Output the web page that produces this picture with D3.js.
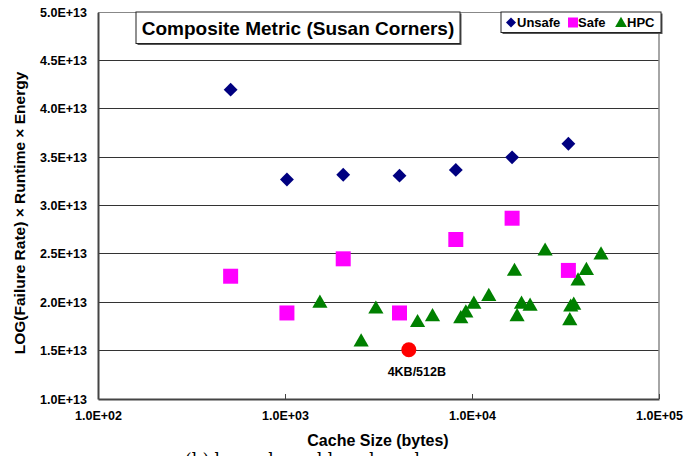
<!DOCTYPE html>
<html><head><meta charset="utf-8">
<script src="https://cdn.jsdelivr.net/npm/d3@7"></script>
<style>body{margin:0;background:#fff;} svg{display:block;font-family:"Liberation Sans",Arial,sans-serif;}</style>
</head><body><svg id="c" width="700" height="456"></svg>
<script>
// ---- data ----
const cacheSizes = [512, 1024, 2048, 4096, 8192, 16384, 32768];
const unsafeValues = [4.20e13, 3.27e13, 3.32e13, 3.31e13, 3.37e13, 3.50e13, 3.64e13];
const safeValues = [2.27e13, 1.89e13, 2.45e13, 1.89e13, 2.65e13, 2.87e13, 2.33e13];
const hpcSizes = [1537, 2554, 3062, 5116, 6150, 8710, 9270, 10230, 12300, 16870, 17420, 18400, 20450, 24600, 33340, 33730, 35000, 36900, 40900, 48980];
const hpcValues = [2.01e13, 1.61e13, 1.95e13, 1.81e13, 1.87e13, 1.85e13, 1.91e13, 2.00e13, 2.08e13, 2.34e13, 1.87e13, 2.00e13, 1.98e13, 2.55e13, 1.83e13, 1.97e13, 1.99e13, 2.24e13, 2.35e13, 2.51e13];
const highlightSizes = [4594];
const highlightValues = [1.51e13];
const highlightLabels = ["4KB/512B"];
const xTicks = [1e2, 1e3, 1e4, 1e5];
const yTicks = [1.0e13, 1.5e13, 2.0e13, 2.5e13, 3.0e13, 3.5e13, 4.0e13, 4.5e13, 5.0e13];
const seriesNames = ["Unsafe", "Safe", "HPC"];
const chartTitle = "Composite Metric (Susan Corners)";
const xTitle = "Cache Size (bytes)";
const yTitle = "LOG(Failure Rate) \u00d7 Runtime \u00d7 Energy";
const caption = "(b) lower bound benchmark";

// ---- drawing ----
const svg = d3.select("#c");
const x = d3.scaleLog().domain([1e2, 1e5]).range([98, 659]);
const y = d3.scaleLinear().domain([1e13, 5e13]).range([399, 12.3]);
const fmt = v => { const e = Math.floor(Math.log10(v) + 1e-9); const m = v / Math.pow(10, e); return m.toFixed(1) + "E+" + String(e).padStart(2, "0"); };

// gridlines
svg.append("g").selectAll("line").data(yTicks.slice(1)).join("line")
  .attr("x1", 98).attr("x2", 659).attr("y1", d => y(d)).attr("y2", d => y(d))
  .attr("stroke", d => d === 5e13 ? "#888" : "#333").attr("stroke-width", 1).attr("shape-rendering", "crispEdges");
// right border
svg.append("line").attr("x1", 659).attr("x2", 659).attr("y1", 12).attr("y2", 399)
  .attr("stroke", "#888").attr("stroke-width", 1.5);

// x axis
const xa = svg.append("g").attr("transform", "translate(0,399)")
  .call(d3.axisBottom(x).tickValues(xTicks).tickFormat(fmt).tickSizeInner(-5).tickSizeOuter(0).tickPadding(12));
xa.select(".domain").attr("stroke", "#444").attr("stroke-width", 2);
xa.selectAll(".tick line").attr("stroke", "#444");
xa.selectAll("text").attr("font-size", 12.5).attr("font-weight", "bold").attr("fill", "#000");

// y axis
const ya = svg.append("g").attr("transform", "translate(98,0)")
  .call(d3.axisLeft(y).tickValues(yTicks).tickFormat(fmt).tickSize(0).tickPadding(11));
ya.select(".domain").attr("stroke", "#444").attr("stroke-width", 2);
ya.selectAll("text").attr("font-size", 12.5).attr("font-weight", "bold").attr("fill", "#000");

// axis titles
svg.append("text").attr("x", 378).attr("y", 446).attr("text-anchor", "middle")
  .attr("font-size", 16).attr("font-weight", "bold").text(xTitle);
svg.append("text").attr("transform", "translate(25,213) rotate(-90)").attr("text-anchor", "middle")
  .attr("font-size", 15.5).attr("font-weight", "bold").text(yTitle);
svg.append("text").attr("x", 185).attr("y", 465).attr("font-family", "'DejaVu Serif',serif")
  .attr("font-size", 17).text(caption);

// markers
const diamond = d3.symbol().type(d3.symbolSquare).size(96)();
const square = d3.symbol().type(d3.symbolSquare).size(225)();
const tri = d3.symbol().type(d3.symbolTriangle).size(100)();
const colors = ["#000080", "#FF00FF", "#008000"];

svg.append("g").selectAll("path").data(hpcSizes).join("path")
  .attr("d", tri).attr("fill", colors[2])
  .attr("transform", (d, i) => `translate(${x(d)},${y(hpcValues[i]) + 2})`);
svg.append("g").selectAll("path").data(cacheSizes).join("path")
  .attr("d", square).attr("fill", colors[1])
  .attr("transform", (d, i) => `translate(${x(d)},${y(safeValues[i])})`);
svg.append("g").selectAll("path").data(cacheSizes).join("path")
  .attr("d", diamond).attr("fill", colors[0])
  .attr("transform", (d, i) => `translate(${x(d)},${y(unsafeValues[i])}) rotate(45)`);
svg.append("g").selectAll("circle").data(highlightSizes).join("circle")
  .attr("cx", d => x(d)).attr("cy", (d, i) => y(highlightValues[i])).attr("r", 7.5).attr("fill", "#FF0000");
svg.append("g").selectAll("text").data(highlightSizes).join("text")
  .attr("x", d => x(d) + 8).attr("y", (d, i) => y(highlightValues[i]) + 26)
  .attr("text-anchor", "middle").attr("font-size", 12.5).attr("font-weight", "bold").text((d, i) => highlightLabels[i]);

// title box
svg.append("rect").attr("x", 137.5).attr("y", 13.5).attr("width", 324).attr("height", 31.5).attr("fill", "#555");
svg.append("rect").attr("x", 136).attr("y", 12).attr("width", 324).attr("height", 31.5)
  .attr("fill", "#fff").attr("stroke", "#222").attr("stroke-width", 1);
svg.append("text").attr("x", 298).attr("y", 34.5).attr("text-anchor", "middle")
  .attr("font-size", 19).attr("font-weight", "bold").text(chartTitle);

// legend
svg.append("rect").attr("x", 502.5).attr("y", 13.5).attr("width", 160).attr("height", 20.5).attr("fill", "#555");
svg.append("rect").attr("x", 501).attr("y", 12).attr("width", 160).attr("height", 20.5)
  .attr("fill", "#fff").attr("stroke", "#222").attr("stroke-width", 1);
const lg = svg.append("g");
const lgX = [511, 573, 621];
const lgTX = [517, 578, 627];
const lgShapes = [
  d3.symbol().type(d3.symbolSquare).size(50)(),
  d3.symbol().type(d3.symbolSquare).size(100)(),
  d3.symbol().type(d3.symbolTriangle).size(60)()
];
seriesNames.forEach((n, i) => {
  lg.append("path").attr("d", lgShapes[i]).attr("fill", colors[i])
    .attr("transform", `translate(${lgX[i]},${i === 2 ? 23.5 : 22.5})${i === 0 ? " rotate(45)" : ""}`);
  lg.append("text").attr("x", lgTX[i]).attr("y", 27).attr("font-size", 13).attr("font-weight", "bold").text(n);
});
</script></body></html>
